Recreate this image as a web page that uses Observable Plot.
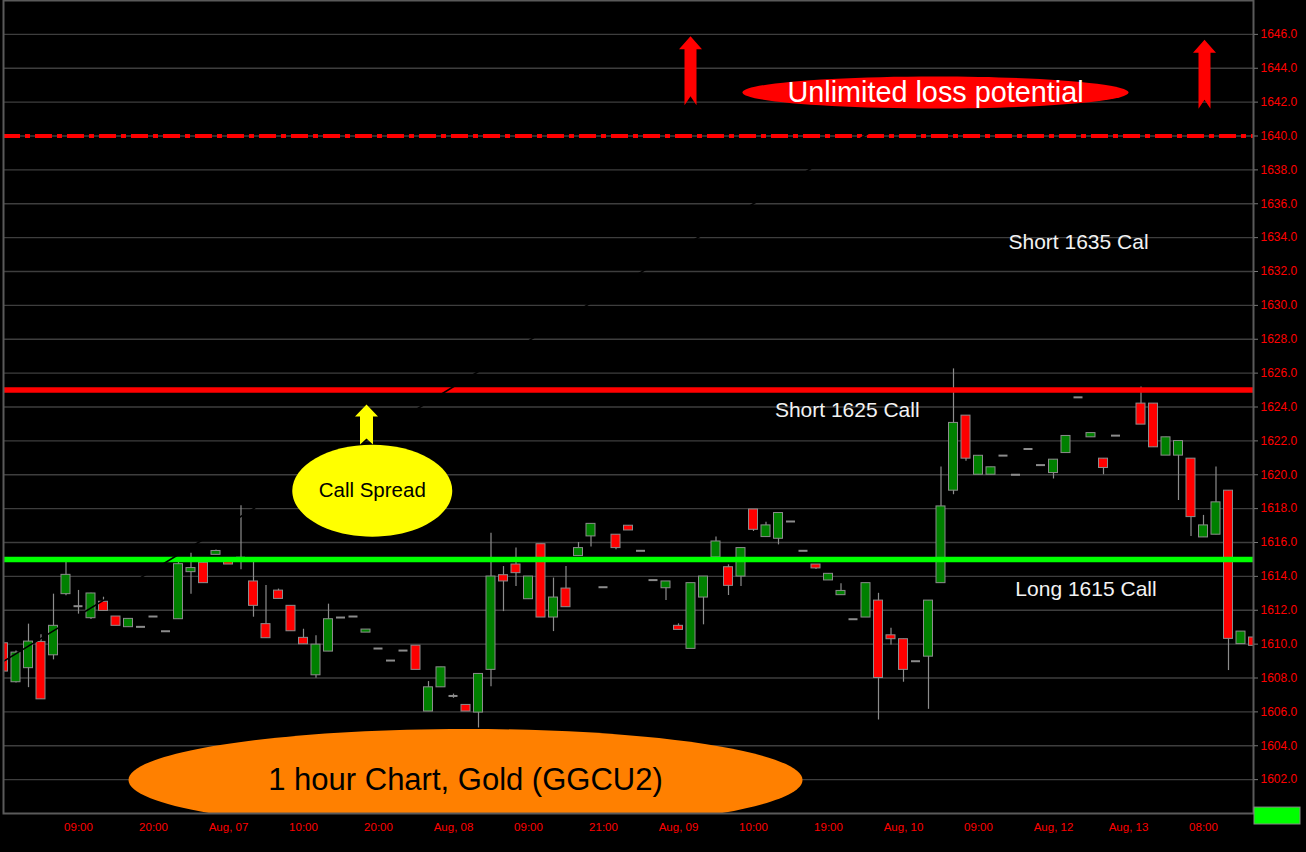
<!DOCTYPE html>
<html>
<head>
<meta charset="utf-8">
<script src="https://cdn.jsdelivr.net/npm/d3@7"></script>
<script src="https://cdn.jsdelivr.net/npm/@observablehq/plot@0.6"></script>
<style>
  html, body { margin: 0; padding: 0; background: #000; }
  #chart svg { display: block; }
</style>
</head>
<body>
<div id="chart"></div>
<script>
// ---- Data: 1-hour gold futures candles (GGCU2) ----
const open = [1610.05,1607.75,1608.58,1610.13,1609.34,1612.95,1612.24,1611.53,1612.5,1611.63,
1611.0,1611.02,1611.63,1610.76,1611.47,1614.25,1614.8,1615.27,1615.0,1615.1,
1613.7,1611.18,1613.16,1612.26,1610.37,1608.16,1609.56,1611.57,1611.63,1610.68,
1609.74,1609.03,1609.62,1609.91,1606.02,1607.45,1606.94,1606.41,1605.96,1608.48,
1614.07,1614.7,1612.65,1615.9,1611.57,1613.28,1615.2,1616.36,1613.36,1616.46,
1616.99,1615.51,1613.78,1613.3,1611.08,1609.72,1612.75,1615.12,1614.54,1613.99,
1617.95,1616.32,1616.22,1617.24,1615.51,1614.7,1613.76,1612.89,1611.47,1611.57,
1612.57,1610.52,1610.29,1608.99,1609.26,1613.6,1619.06,1623.49,1620.0,1620.0,
1621.13,1620.0,1621.52,1620.57,1620.1,1621.28,1624.57,1622.21,1620.95,1622.31,
1625.0,1624.2,1624.2,1621.13,1621.13,1620.95,1616.3,1616.46,1619.06,1610.0,
1610.39];
const high = [1610.1,1609.6,1611.18,1610.55,1612.95,1614.82,1613.17,1613.0,1612.77,1611.63,
1611.49,1611.02,1611.63,1610.76,1614.82,1615.37,1614.85,1615.55,1615.0,1618.17,
1614.88,1613.46,1613.25,1612.26,1610.88,1610.49,1612.36,1611.57,1611.63,1610.86,
1609.74,1609.03,1609.62,1609.91,1607.79,1608.63,1607.05,1606.41,1608.24,1616.55,
1614.58,1615.67,1613.99,1615.9,1613.9,1614.58,1616.0,1617.1,1613.36,1616.46,
1616.99,1615.51,1613.78,1613.7,1611.2,1613.6,1613.99,1616.32,1614.68,1615.67,
1617.95,1617.2,1617.74,1617.24,1615.51,1614.7,1614.15,1613.56,1611.47,1613.6,
1613.0,1610.94,1610.29,1608.99,1612.57,1620.46,1626.25,1623.49,1621.12,1620.44,
1621.13,1620.0,1621.52,1620.57,1620.89,1622.29,1624.57,1622.46,1620.95,1622.31,
1625.0,1625.18,1624.2,1622.21,1621.99,1620.95,1617.6,1620.46,1619.06,1610.74,
1610.39];
const low = [1608.38,1607.7,1607.43,1606.74,1609.07,1612.85,1611.77,1611.45,1611.96,1611.08,
1611.0,1611.02,1611.63,1610.76,1611.47,1612.95,1613.6,1615.27,1614.7,1614.39,
1611.59,1610.35,1612.67,1610.76,1609.99,1607.98,1609.56,1611.57,1611.63,1610.68,
1609.74,1609.03,1609.62,1608.48,1606.02,1607.45,1606.8,1606.02,1605.05,1607.49,
1611.92,1613.4,1612.65,1611.57,1610.74,1612.18,1615.2,1615.73,1613.36,1615.57,
1616.71,1615.51,1613.78,1612.57,1610.84,1609.72,1611.14,1615.12,1612.87,1613.4,
1616.65,1616.32,1615.86,1617.24,1615.51,1614.4,1613.76,1612.89,1611.47,1611.57,
1605.52,1609.95,1607.75,1608.99,1606.15,1613.6,1618.82,1620.79,1620.0,1620.0,
1621.13,1620.0,1621.52,1620.57,1619.75,1621.28,1624.57,1622.21,1620.0,1622.31,
1625.0,1622.96,1621.62,1621.13,1618.48,1616.36,1616.3,1616.46,1608.44,1610.0,
1609.9];
const close = [1608.38,1609.5,1610.15,1606.74,1611.08,1614.09,1612.24,1612.99,1611.96,1611.08,
1611.49,1611.02,1611.63,1610.76,1614.72,1614.49,1613.6,1615.5,1614.7,1615.1,
1612.26,1610.35,1612.67,1610.76,1609.99,1609.97,1611.47,1611.57,1611.63,1610.86,
1609.74,1609.03,1609.62,1608.48,1607.45,1608.63,1606.94,1606.02,1608.24,1613.99,
1613.7,1614.19,1613.99,1611.57,1612.75,1612.18,1615.67,1617.1,1613.36,1615.67,
1616.71,1615.51,1613.78,1613.7,1610.84,1613.6,1613.99,1616.06,1613.44,1615.67,
1616.75,1617.01,1617.74,1617.24,1615.51,1614.47,1614.15,1613.14,1611.47,1613.6,
1608.0,1610.29,1608.48,1608.99,1612.57,1618.13,1623.06,1620.95,1621.12,1620.44,
1621.13,1620.0,1621.52,1620.57,1620.89,1622.29,1624.57,1622.46,1620.4,1622.31,
1625.0,1622.96,1621.62,1622.21,1621.99,1617.5,1617.01,1618.37,1610.31,1610.74,
1609.9];

// x tick positions (bar index) and their labels
const xTickIndex = [6,12,18,24,30,36,42,48,54,60,66,72,78,84,90,96];
const xTickLabels = ["09:00","20:00","Aug, 07","10:00","20:00","Aug, 08","09:00","21:00",
                     "Aug, 09","10:00","19:00","Aug, 10","09:00","Aug, 12","Aug, 13","08:00"];
// y ticks (price)
const yTicks = [1602,1604,1606,1608,1610,1612,1614,1616,1618,1620,1622,1624,
                1626,1628,1630,1632,1634,1636,1638,1640,1642,1644,1646];

// Option strategy levels
const longStrike = [1615];
const shortStrike = [1625];
const lossLevel = [1640];
const strikeLabels = [
  {i: 86.0, v: 1633.71, text: "Short 1635 Cal"},
  {i: 67.5, v: 1623.78, text: "Short 1625 Call"},
  {i: 86.6, v: 1613.26, text: "Long 1615 Call"}
];
// black trend line end points (bar index, price)
const trendIdx = [-0.24, 69.4];
const trendPrice = [1608.88, 1640.24];

// Annotation bubbles: [bar index, price]
const lossBubble = {i: 74.56, v: 1642.57, text: "Unlimited loss potential"};
const spreadBubble = {i: 29.5, v: 1619.06, text: "Call Spread"};
const titleBubble = {i: 36.96, v: 1601.98, text: "1 hour Chart, Gold (GGCU2)"};
const redArrows = [{i: 54.96, v: 1643.85}, {i: 96.08, v: 1643.64}];
const yellowArrow = [{i: 29.04, v: 1622.96}];
const lastBox = [{x1: 100.08, x2: 103.76, y1: 1599.35, y2: 1600.35}];

// ---- Build tables ----
const candles = open.map((o, i) => ({i, open: o, high: high[i], low: low[i], close: close[i]}));
const ups = candles.filter(d => d.close - d.open > 0.1);
const downs = candles.filter(d => d.open - d.close > 0.1);
const dojis = candles.filter(d => Math.abs(d.close - d.open) <= 0.1);
const wicks = candles.filter(d => d.high - d.low > 0.05);
const trend = trendIdx.map((x, k) => ({i: x, v: trendPrice[k]}));

// custom symbols (size = r^2 * PI; we use r = 100 so scale = r/100 px)
function ellipseSymbol(rx, ry) {
  return {
    draw(ctx, size) {
      const s = Math.sqrt(size / Math.PI) / 100;
      const a = rx * s, b = ry * s, k = 0.5523;
      ctx.moveTo(a, 0);
      ctx.bezierCurveTo(a, k * b, k * a, b, 0, b);
      ctx.bezierCurveTo(-k * a, b, -a, k * b, -a, 0);
      ctx.bezierCurveTo(-a, -k * b, -k * a, -b, 0, -b);
      ctx.bezierCurveTo(k * a, -b, a, -k * b, a, 0);
      ctx.closePath();
    }
  };
}
function arrowSymbol(L, hw, hh, sw, nd) {
  return {
    draw(ctx, size) {
      const s = Math.sqrt(size / Math.PI) / 100;
      const t = -L / 2 * s, b = L / 2 * s, h = t + hh * s;
      ctx.moveTo(0, t);
      ctx.lineTo(hw / 2 * s, h);
      ctx.lineTo(sw / 2 * s, h);
      ctx.lineTo(sw / 2 * s, b);
      ctx.lineTo(0, b - nd * s);
      ctx.lineTo(-sw / 2 * s, b);
      ctx.lineTo(-sw / 2 * s, h);
      ctx.lineTo(-hw / 2 * s, h);
      ctx.closePath();
    }
  };
}

const bodyHalf = 0.36;
const font = "Liberation Sans, Arial, sans-serif";

const chart = Plot.plot({
  width: 1306,
  height: 852,
  marginLeft: 3,
  marginRight: 53,
  marginTop: 0,
  marginBottom: 39,
  style: {background: "#000", fontFamily: font, overflow: "visible"},
  x: {domain: [0, 100]},
  y: {domain: [1600, 1648]},
  marks: [
    Plot.gridY(yTicks, {stroke: "#3e3e3e", strokeOpacity: 1, strokeWidth: 1.3}),
    // title bubble (clipped by the frame)
    Plot.dot([titleBubble], {x: "i", y: "v", r: 100, symbol: ellipseSymbol(337, 51), fill: "#ff8000", clip: true}),
    // candles
    Plot.ruleX(wicks, {x: "i", y1: "low", y2: "high", stroke: "#8c8c8c", strokeWidth: 1.2, clip: true}),
    Plot.rect(ups, {x1: d => d.i - bodyHalf, x2: d => d.i + bodyHalf, y1: "open", y2: "close",
      fill: "#008000", stroke: "#8c8c8c", strokeWidth: 1, clip: true}),
    Plot.rect(downs, {x1: d => d.i - bodyHalf, x2: d => d.i + bodyHalf, y1: "open", y2: "close",
      fill: "#ff0000", stroke: "#8c8c8c", strokeWidth: 1, clip: true}),
    Plot.ruleY(dojis, {y: "close", x1: d => d.i - bodyHalf, x2: d => d.i + bodyHalf,
      stroke: "#8c8c8c", strokeWidth: 2, clip: true}),
    // strike lines
    Plot.ruleY(lossLevel, {stroke: "#ff0000", strokeWidth: 4, strokeDasharray: "17,5,5,5"}),
    Plot.ruleY(shortStrike, {stroke: "#ff0000", strokeWidth: 5.5}),
    Plot.ruleY(longStrike, {stroke: "#00ff00", strokeWidth: 5.5}),
    // black trend line
    Plot.line(trend, {x: "i", y: "v", stroke: "#000", strokeWidth: 1.6, clip: true}),
    // bubbles & arrows
    Plot.dot([lossBubble], {x: "i", y: "v", r: 100, symbol: ellipseSymbol(193, 16), fill: "#ff0000"}),
    Plot.dot([spreadBubble], {x: "i", y: "v", r: 100, symbol: ellipseSymbol(80, 46), fill: "#ffff00"}),
    Plot.dot(redArrows, {x: "i", y: "v", r: 100, symbol: arrowSymbol(69, 23, 13, 12, 9), fill: "#ff0000"}),
    Plot.dot(yellowArrow, {x: "i", y: "v", r: 100, symbol: arrowSymbol(40, 23, 12, 13, 6), fill: "#ffff00"}),
    // texts
    Plot.text(strikeLabels, {x: "i", y: "v", text: "text", fill: "#f2f2f2", fontSize: 21, fontFamily: font}),
    Plot.text([lossBubble], {x: "i", y: "v", text: "text", fill: "#ffffff", fontSize: 28.8, fontFamily: font}),
    Plot.text([spreadBubble], {x: "i", y: "v", text: "text", fill: "#000", fontSize: 20.5, fontFamily: font}),
    Plot.text([titleBubble], {x: "i", y: "v", text: "text", fill: "#000", fontSize: 31, fontFamily: font}),
    // frame & last-price box
    Plot.frame({stroke: "#5a5a5a", strokeWidth: 2}),
    Plot.rect(lastBox, {x1: "x1", x2: "x2", y1: "y1", y2: "y2", fill: "#00ff00", stroke: "#888", strokeWidth: 1}),
    // axes
    Plot.axisY(yTicks, {anchor: "right", tickSize: 4, tickPadding: 3, stroke: "#777", fill: "#ff0000",
      fontSize: 12, tickFormat: d => d.toFixed(1), label: null}),
    Plot.axisX(xTickIndex, {anchor: "bottom", tickSize: 0, tickPadding: 9, fill: "#ff0000",
      fontSize: 11.5, tickFormat: d => xTickLabels[xTickIndex.indexOf(d)], label: null})
  ]
});
document.getElementById("chart").appendChild(chart);
</script>
</body>
</html>
